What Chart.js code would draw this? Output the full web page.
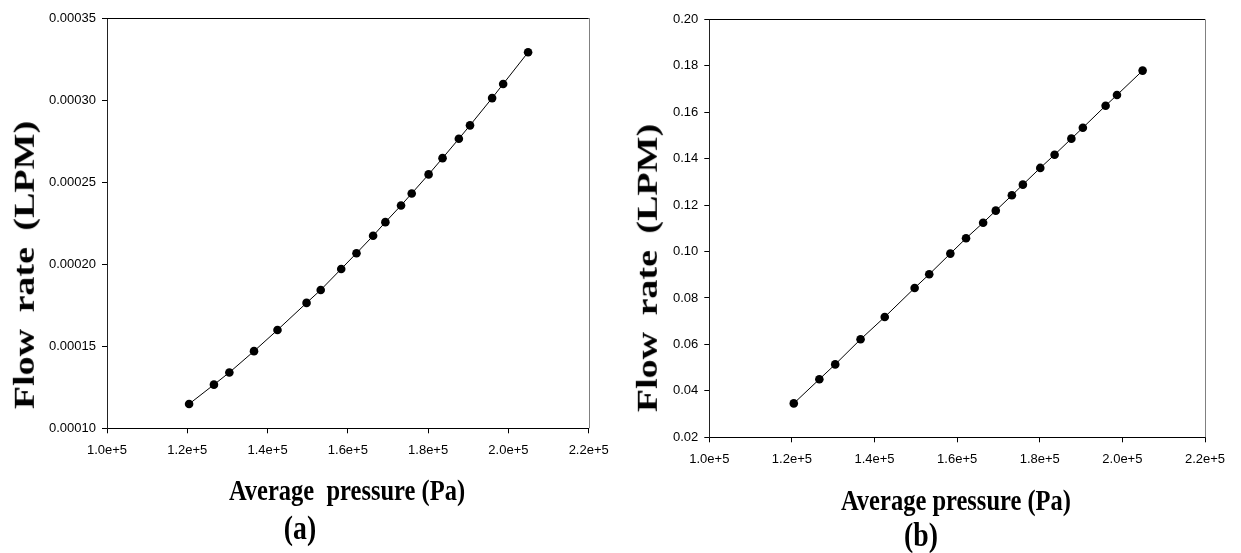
<!DOCTYPE html>
<html>
<head>
<meta charset="utf-8">
<script src="https://cdn.jsdelivr.net/npm/chart.js@4.4.1/dist/chart.umd.min.js"></script>
<style>
  body { margin: 0; background: #fff; width: 1241px; height: 553px; position: relative; overflow: hidden; }
  .painel { position: absolute; top: 0; }
  .painel canvas { display: block; }
  .titulo {
    position: absolute;
    font-family: "Liberation Serif", "Times New Roman", serif;
    font-weight: bold;
    color: #000;
    white-space: pre;
    line-height: 1;
    transform-origin: 50% 50%;
  }
  .ytit { font-size: 38px; word-spacing: 7px; transform: translate(-50%, -50%) rotate(-90deg) scaleY(0.77); }
  .xtit { font-size: 29px; transform: translateX(-50%) scaleX(0.845); }
  .letra { font-size: 33px; transform: translateX(-50%) scaleX(0.84); }
</style>
</head>
<body>
<div class="painel" style="left:0"><canvas id="graficoA" width="620" height="553"></canvas></div>
<div class="painel" style="left:620px"><canvas id="graficoB" width="621" height="553"></canvas></div>

<div class="titulo ytit" style="left:24px;top:265px">Flow rate (LPM)</div>
<div class="titulo xtit" style="left:347px;top:476px">Average  pressure (Pa)</div>
<div class="titulo letra" style="left:300px;top:512px">(a)</div>

<div class="titulo ytit" style="left:647px;top:268px">Flow rate (LPM)</div>
<div class="titulo xtit" style="left:956px;top:486px">Average pressure (Pa)</div>
<div class="titulo letra" style="left:921px;top:519px">(b)</div>

<script>
// pressão média (Pa), igual nos dois gráficos
const pressao = [120450, 126640, 130480, 136620, 142470, 149710, 153240, 158350, 162150, 166290,
                 169350, 173250, 175910, 180120, 183590, 187650, 190430, 195940, 198690, 204900];

// vazão (LPM) de cada gráfico
const vazaoA = [0.0001148, 0.0001266, 0.0001340, 0.0001470, 0.0001599, 0.0001764, 0.0001843, 0.0001971,
                0.0002067, 0.0002173, 0.0002256, 0.0002358, 0.0002431, 0.0002547, 0.0002646, 0.0002764,
                0.0002846, 0.0003012, 0.0003098, 0.0003291];
const vazaoB = [0.0346, 0.0450, 0.0514, 0.0622, 0.0718, 0.0843, 0.0902, 0.0991, 0.1057, 0.1124,
                0.1176, 0.1242, 0.1288, 0.1360, 0.1417, 0.1486, 0.1533, 0.1628, 0.1674, 0.1779];

// marcas dos eixos
const ticksPressao = [100000, 120000, 140000, 160000, 180000, 200000, 220000];
const ticksVazaoA = [0.00010, 0.00015, 0.00020, 0.00025, 0.00030, 0.00035];
const ticksVazaoB = [0.02, 0.04, 0.06, 0.08, 0.10, 0.12, 0.14, 0.16, 0.18, 0.20];

// moldura de cima e da direita
const moldura = {
    id: "moldura",
    afterDraw(chart) {
        const { ctx, chartArea: a } = chart;
        ctx.save();
        ctx.lineWidth = 1;
        ctx.strokeStyle = "#000";
        ctx.beginPath();
        ctx.moveTo(a.left, Math.round(a.top) + 0.5);
        ctx.lineTo(a.right, Math.round(a.top) + 0.5);
        ctx.stroke();
        ctx.strokeStyle = "#808080";
        ctx.beginPath();
        ctx.moveTo(Math.round(a.right) + 0.5, a.top);
        ctx.lineTo(Math.round(a.right) + 0.5, a.bottom);
        ctx.stroke();
        ctx.restore();
    }
};

function criaGrafico(id, vazao, ticksY, casas, larguraY, alturaX, padding) {
    const fonte = { family: "'Liberation Sans', Arial, sans-serif", size: 13 };
    const marcas = (lista) => (scale) => { scale.ticks = lista.map(v => ({ value: v })); };

    return new Chart(document.getElementById(id), {
        type: "scatter",
        data: {
            datasets: [{
                data: pressao.map((p, i) => ({ x: p, y: vazao[i] })),
                showLine: true,
                borderColor: "#000",
                borderWidth: 1,
                pointRadius: 4.3,
                pointHoverRadius: 4.3,
                pointBackgroundColor: "#000",
                pointBorderWidth: 0,
                clip: false,
            }]
        },
        options: {
            responsive: false,
            animation: false,
            layout: { padding },
            plugins: {
                legend: { display: false },
                tooltip: { enabled: false }
            },
            scales: {
                x: {
                    type: "linear",
                    min: ticksPressao[0],
                    max: ticksPressao[ticksPressao.length - 1],
                    afterBuildTicks: marcas(ticksPressao),
                    afterFit: (s) => { s.height = alturaX; },
                    grid: { drawOnChartArea: false, drawTicks: true, tickLength: 5, color: "#000" },
                    border: { display: true, color: "#000", width: 1 },
                    ticks: {
                        color: "#000",
                        font: fonte,
                        padding: 9,
                        maxRotation: 0,
                        callback: (v) => Number(v).toExponential(1)
                    }
                },
                y: {
                    type: "linear",
                    min: ticksY[0],
                    max: ticksY[ticksY.length - 1],
                    afterBuildTicks: marcas(ticksY),
                    afterFit: (s) => { s.width = larguraY; },
                    grid: { drawOnChartArea: false, drawTicks: true, tickLength: 5, color: "#000" },
                    border: { display: true, color: "#222", width: 1 },
                    ticks: {
                        color: "#000",
                        font: fonte,
                        padding: 6,
                        callback: (v) => Number(v).toFixed(casas)
                    }
                }
            }
        },
        plugins: [moldura]
    });
}

criaGrafico("graficoA", vazaoA, ticksVazaoA, 5, 107, 124.7, { top: 18, right: 31.3, left: 0, bottom: 0 });
criaGrafico("graficoB", vazaoB, ticksVazaoB, 2, 89.3, 115.7, { top: 19.3, right: 36, left: 0, bottom: 0 });
</script>
</body>
</html>
